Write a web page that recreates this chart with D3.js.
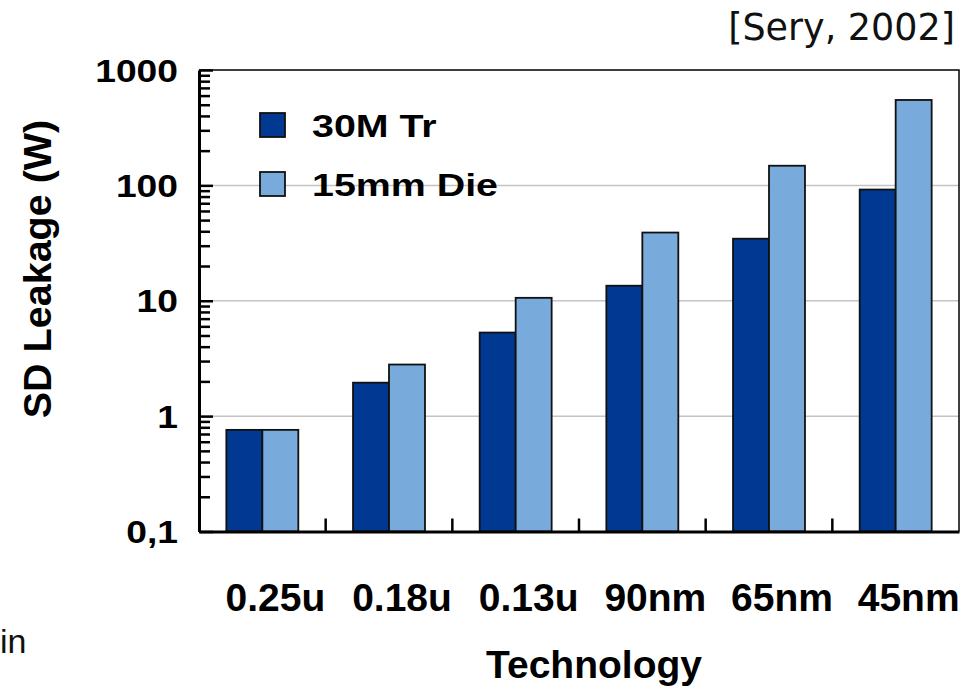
<!DOCTYPE html>
<html>
<head>
<meta charset="utf-8">
<script src="https://cdn.jsdelivr.net/npm/d3@7"></script>
<style>
  body { margin: 0; background: #fff; }
  svg { display: block; }
  text { font-family: "Liberation Sans", Arial, sans-serif; }
</style>
</head>
<body>
<div id="chart"></div>
<script>
// values
var categories = ["0.25u", "0.18u", "0.13u", "90nm", "65nm", "45nm"];
var seriesNames = ["30M Tr", "15mm Die"];
var trValues = [0.76, 1.95, 5.3, 13.5, 34.5, 92];
var dieValues = [0.76, 2.8, 10.6, 39, 148, 550];
var tickValues = [0.1, 1, 10, 100, 1000];
var tickLabels = ["0,1", "1", "10", "100", "1000"];
var colors = ["#003892", "#78aadb"];

var width = 974, height = 688;
var plotLeft = 199, plotRight = 959, plotTop = 70, plotBottom = 531.5;

var svg = d3.select("#chart").append("svg")
    .attr("width", width)
    .attr("height", height);

var x0 = d3.scaleBand()
    .domain(categories)
    .range([plotLeft, plotRight])
    .padding(0);

var x1 = d3.scaleBand()
    .domain(seriesNames)
    .range([0, x0.bandwidth()])
    .paddingInner(0)
    .paddingOuter(0.76);

var y = d3.scaleLog()
    .domain([0.1, 1000])
    .range([plotBottom, plotTop]);

// grid lines at the decades
svg.append("g")
    .selectAll("line")
    .data(tickValues.slice(1, 4))
    .enter()
    .append("line")
    .attr("x1", plotLeft)
    .attr("x2", plotRight)
    .attr("y1", function(d) { return y(d); })
    .attr("y2", function(d) { return y(d); })
    .attr("stroke", "#c4c4c4")
    .attr("stroke-width", 1.5);

// top and right frame
svg.append("path")
    .attr("d", "M" + plotLeft + "," + plotTop + "H" + plotRight + "V" + plotBottom)
    .attr("fill", "none")
    .attr("stroke", "#000")
    .attr("stroke-width", 1.5);

// bars
var rows = categories.map(function(c, i) {
    return { cat: c, values: [trValues[i], dieValues[i]] };
});

var group = svg.selectAll(".grp")
    .data(rows)
    .enter()
    .append("g")
    .attr("class", "grp")
    .attr("transform", function(d) { return "translate(" + x0(d.cat) + ",0)"; });

group.selectAll("rect")
    .data(function(d) {
        return d.values.map(function(v, j) { return { name: seriesNames[j], value: v, j: j }; });
    })
    .enter()
    .append("rect")
    .attr("x", function(d) { return x1(d.name); })
    .attr("width", x1.bandwidth())
    .attr("y", function(d) { return y(d.value); })
    .attr("height", function(d) { return plotBottom - y(d.value); })
    .attr("fill", function(d) { return colors[d.j]; })
    .attr("stroke", "#111")
    .attr("stroke-width", 1.8);

// minor ticks on the log axis
var minors = [];
[0.1, 1, 10, 100].forEach(function(dec) {
    for (var k = 2; k <= 9; k++) minors.push(dec * k);
});

var minorAxis = svg.append("g")
    .attr("transform", "translate(" + plotLeft + ",0)")
    .call(d3.axisLeft(y).tickValues(minors).tickSizeInner(-11).tickSizeOuter(0).tickFormat(""));
minorAxis.select(".domain").remove();
minorAxis.selectAll("line").attr("stroke-width", 2.5);

var yAxis = svg.append("g")
    .attr("transform", "translate(" + plotLeft + ",0)")
    .call(d3.axisLeft(y)
        .tickValues(tickValues)
        .tickSizeInner(-14)
        .tickSizeOuter(0)
        .tickFormat(function(d, i) { return tickLabels[i]; }));
yAxis.select(".domain").attr("stroke-width", 3);
yAxis.selectAll("line").attr("stroke-width", 2.5);
yAxis.selectAll("text")
    .attr("x", 0)
    .attr("dy", "0.36em")
    .attr("transform", "translate(-21,0) scale(1.2,1)")
    .attr("font-size", 31)
    .attr("font-weight", "bold")
    .attr("fill", "#000");

// bottom axis with separators between categories
var xAxis = svg.append("g")
    .attr("transform", "translate(0," + plotBottom + ")")
    .call(d3.axisBottom(x0).tickSize(0).tickPadding(0));
xAxis.select(".domain").attr("stroke-width", 3);
xAxis.selectAll("text")
    .attr("x", 13)
    .attr("y", 79)
    .attr("dy", 0)
    .attr("font-size", 39)
    .attr("font-weight", "bold")
    .attr("fill", "#000");

svg.append("g")
    .selectAll("line")
    .data(categories.slice(1))
    .enter()
    .append("line")
    .attr("x1", function(d) { return x0(d); })
    .attr("x2", function(d) { return x0(d); })
    .attr("y1", plotBottom)
    .attr("y2", plotBottom - 13)
    .attr("stroke", "#000")
    .attr("stroke-width", 2.5);

// axis titles
svg.append("text")
    .attr("transform", "translate(51,269) rotate(-90)")
    .attr("text-anchor", "middle")
    .attr("font-size", 39.5)
    .attr("font-weight", "bold")
    .text("SD Leakage (W)");

svg.append("text")
    .attr("x", 594)
    .attr("y", 678)
    .attr("text-anchor", "middle")
    .attr("font-size", 39)
    .attr("font-weight", "bold")
    .text("Technology");

// legend
var legend = svg.append("g");
seriesNames.forEach(function(name, i) {
    var ly = 113 + i * 59;
    legend.append("rect")
        .attr("x", 260)
        .attr("y", ly)
        .attr("width", 25)
        .attr("height", 24)
        .attr("fill", colors[i])
        .attr("stroke", "#111")
        .attr("stroke-width", 1.8);
    legend.append("text")
        .attr("transform", "translate(312," + (ly + 24) + ") scale(1.25,1)")
        .attr("font-size", 31.5)
        .attr("font-weight", "bold")
        .text(name);
});

// source note
svg.append("text")
    .attr("x", 955)
    .attr("y", 40)
    .attr("text-anchor", "end")
    .attr("font-size", 36.5)
    .style("font-family", "'DejaVu Sans', Verdana, sans-serif")
    .attr("fill", "#111")
    .text("[Sery, 2002]");

// cut-off text at the lower left
svg.append("text")
    .attr("x", 0)
    .attr("y", 653)
    .attr("font-size", 34)
    .attr("fill", "#111")
    .text("in");
</script>
</body>
</html>
